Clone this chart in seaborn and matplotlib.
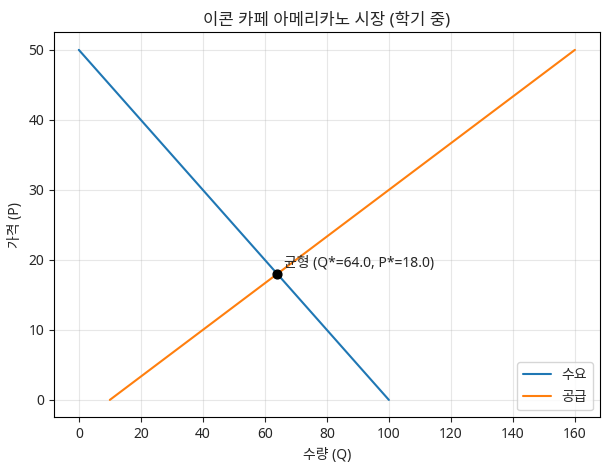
import numpy as np
import matplotlib
matplotlib.use('Agg')
import matplotlib.pyplot as plt
import seaborn as sns

sns.set_style('ticks')
plt.rcParams['font.family'] = ['Noto Sans', 'Noto Sans CJK KR']
plt.rcParams['axes.unicode_minus'] = False

# ── Data ──────────────────────────────────────────────
demand_q = [0, 100]
demand_p = [50, 0]
supply_q = [10, 160]
supply_p = [0, 50]
eq_q = 64.0
eq_p = 18.0

fig, ax = plt.subplots(figsize=(6.07, 4.69), dpi=100)

sns.lineplot(x=demand_q, y=demand_p, ax=ax, color='#1f77b4', label='수요')
sns.lineplot(x=supply_q, y=supply_p, ax=ax, color='#ff7f0e', label='공급')
ax.scatter([eq_q], [eq_p], color='black', s=40, zorder=5)
ax.annotate(f'균형 (Q*={eq_q:.1f}, P*={eq_p:.1f})', xy=(eq_q, eq_p),
            xytext=(5, 5), textcoords='offset points', fontsize=10)

ax.set_title('이콘 카페 아메리카노 시장 (학기 중)', fontsize=12)
ax.set_xlabel('수량 (Q)')
ax.set_ylabel('가격 (P)')
ax.set_xticks(range(0, 161, 20))
ax.set_yticks(range(0, 51, 10))
ax.grid(True, color='#b0b0b0', alpha=0.3)
for s in ax.spines.values():
    s.set_visible(True)
    s.set_color('black')
ax.legend(loc='lower right')

fig.subplots_adjust(left=0.089, right=0.988, top=0.931, bottom=0.110)
fig.savefig('out.png', dpi=100)
